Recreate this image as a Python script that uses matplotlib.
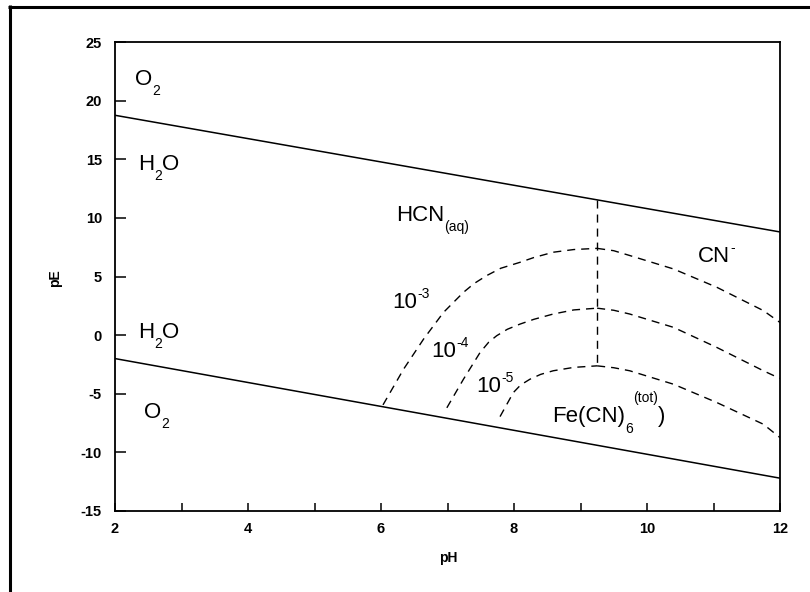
import matplotlib
matplotlib.use("Agg")
import matplotlib.pyplot as plt
from matplotlib.lines import Line2D
from matplotlib.ticker import MultipleLocator

plt.rcParams['font.family'] = ['Liberation Sans', 'DejaVu Sans']

# ---------------- data ----------------
water_ph = [2, 12]
upper_water_pe = [18.75, 8.8]      # O2 / H2O boundary
lower_water_pe = [-2.0, -12.2]     # H2O / H2 boundary

# HCN / CN- boundary (vertical)
hcn_cn_ph = [9.25, 9.25]
hcn_cn_pe = [11.5, -2.62]

# Fe(CN)6 stability boundaries, left branch (HCN side)
left_ph_3 = [6.03, 6.34, 6.64, 6.94, 7.24, 7.4, 7.59, 7.8, 8.09, 8.3, 8.59, 8.9, 9.25]
left_pe_3 = [-5.95, -2.9, -0.34, 1.94, 3.65, 4.4, 5.08, 5.7, 6.21, 6.62, 7.07, 7.3, 7.4]
left_ph_4 = [6.99, 7.24, 7.49, 7.62, 7.74, 7.9, 8.09, 8.3, 8.59, 8.9, 9.25]
left_pe_4 = [-6.2, -3.76, -1.48, -0.6, -0.05, 0.5, 0.94, 1.35, 1.8, 2.15, 2.3]
left_ph_5 = [7.79, 7.99, 8.1, 8.24, 8.4, 8.59, 8.9, 9.25]
left_pe_5 = [-6.95, -4.9, -4.25, -3.76, -3.35, -3.04, -2.75, -2.62]

# right branch (CN- side)
right_ph = [9.25, 9.5, 9.74, 10.4, 11.05, 11.75, 12.0]
right_pe_3 = [7.4, 7.2, 6.79, 5.64, 4.08, 2.09, 1.08]
right_pe_4 = [2.3, 2.12, 1.8, 0.66, -1.05, -3.04, -3.7]
right_pe_5 = [-2.62, -2.78, -3.04, -4.19, -5.75, -7.6, -8.74]

x_ticks = [2, 4, 6, 8, 10, 12]
y_ticks = [-15, -10, -5, 0, 5, 10, 15, 20, 25]

# region labels: (pH, pE, [(text, size, vertical offset in points), ...])
MAIN, SMALL = 16, 10
SUB, SUP, SUP_HIGH = -7.5, 7.0, 14.5
region_labels = [
    (2.30, 21.33, [('O', MAIN, 0), ('2', SMALL, SUB)]),
    (2.35, 14.08, [('H', MAIN, 0), ('2', SMALL, SUB), ('O', MAIN, 0)]),
    (6.23, 9.75, [('HCN', MAIN, 0), ('(aq)', SMALL, SUB)]),
    (10.77, 6.24, [('CN', MAIN, 0), ('-', SMALL, SUP + 0.5)]),
    (6.17, 2.31, [('10', MAIN, 0), ('-3', SMALL, SUP)]),
    (6.76, -1.84, [('10', MAIN, 0), ('-4', SMALL, SUP)]),
    (7.43, -4.82, [('10', MAIN, 0), ('-5', SMALL, SUP)]),
    (2.35, -0.25, [('H', MAIN, 0), ('2', SMALL, SUB), ('O', MAIN, 0)]),
    (2.44, -7.07, [('O', MAIN, 0), ('2', SMALL, SUB)]),
    (8.58, -7.45, [('Fe(CN)', MAIN, 0), ('6', SMALL, SUB),
                   ('(tot)', SMALL, SUP_HIGH), (')', MAIN, 0)]),
]

# ---------------- figure ----------------
fig = plt.figure(figsize=(8.1, 5.92), dpi=100)
ax = fig.add_axes([115 / 810, 1 - 511 / 592, 665 / 810, 469 / 592])

solid = dict(color='black', lw=1.1, solid_capstyle='butt')
dash = dict(color='black', lw=1.0, dashes=(5.8, 4.3))

ax.plot(water_ph, upper_water_pe, **solid)
ax.plot(water_ph, lower_water_pe, **solid)
ax.plot(hcn_cn_ph, hcn_cn_pe, **dash)
ax.plot(left_ph_3, left_pe_3, **dash)
ax.plot(left_ph_4, left_pe_4, **dash)
ax.plot(left_ph_5, left_pe_5, **dash)
ax.plot(right_ph, right_pe_3, **dash)
ax.plot(right_ph, right_pe_4, **dash)
ax.plot(right_ph, right_pe_5, **dash)

ax.set_xlim(2, 12)
ax.set_ylim(-15, 25)
ax.set_xticks(x_ticks)
ax.set_xticklabels([str(v) for v in x_ticks])
ax.xaxis.set_minor_locator(MultipleLocator(1))
ax.set_yticks(y_ticks)
ax.set_yticklabels([str(v) for v in y_ticks])

for s in ax.spines.values():
    s.set_linewidth(1.3)

ax.tick_params(axis='x', which='both', direction='in', length=5.8, width=1.1,
               top=False, bottom=True, pad=8, labelsize=10.5)
ax.tick_params(axis='y', which='both', direction='in', length=8, width=1.1,
               right=False, left=True, pad=9.4, labelsize=10.5)
for lab in ax.get_xticklabels() + ax.get_yticklabels():
    lab.set_fontweight('bold')

ax.set_xlabel('pH', fontsize=10, fontweight='bold', va='center')
ax.xaxis.set_label_coords((448 - 115) / 665, (511 - 558) / 469)
ax.set_ylabel('pE', fontsize=10, fontweight='bold', va='center')
ax.yaxis.set_label_coords((55 - 115) / 665, (511 - 278) / 469)

renderer = fig.canvas.get_renderer()


def rich(x, y, parts):
    dx = 0.0
    for s, size, dy in parts:
        t = ax.annotate(s, xy=(x, y), xycoords='data', xytext=(dx, dy),
                        textcoords='offset points', fontsize=size,
                        ha='left', va='baseline', annotation_clip=False)
        bb = t.get_window_extent(renderer)
        dx += bb.width * 72.0 / fig.dpi


for x, y, parts in region_labels:
    rich(x, y, parts)

# figure border (top and left visible)
bx = 9.5 / 810
by = 1 - 6.5 / 592
fig.add_artist(Line2D([bx, bx], [0, by + 1.5 / 592], transform=fig.transFigure,
                      color='black', lw=2.2, solid_capstyle='butt'))
fig.add_artist(Line2D([bx - 1.5 / 810, 1], [by, by], transform=fig.transFigure,
                      color='black', lw=2.2, solid_capstyle='butt'))

fig.savefig('out.png', dpi=100)
